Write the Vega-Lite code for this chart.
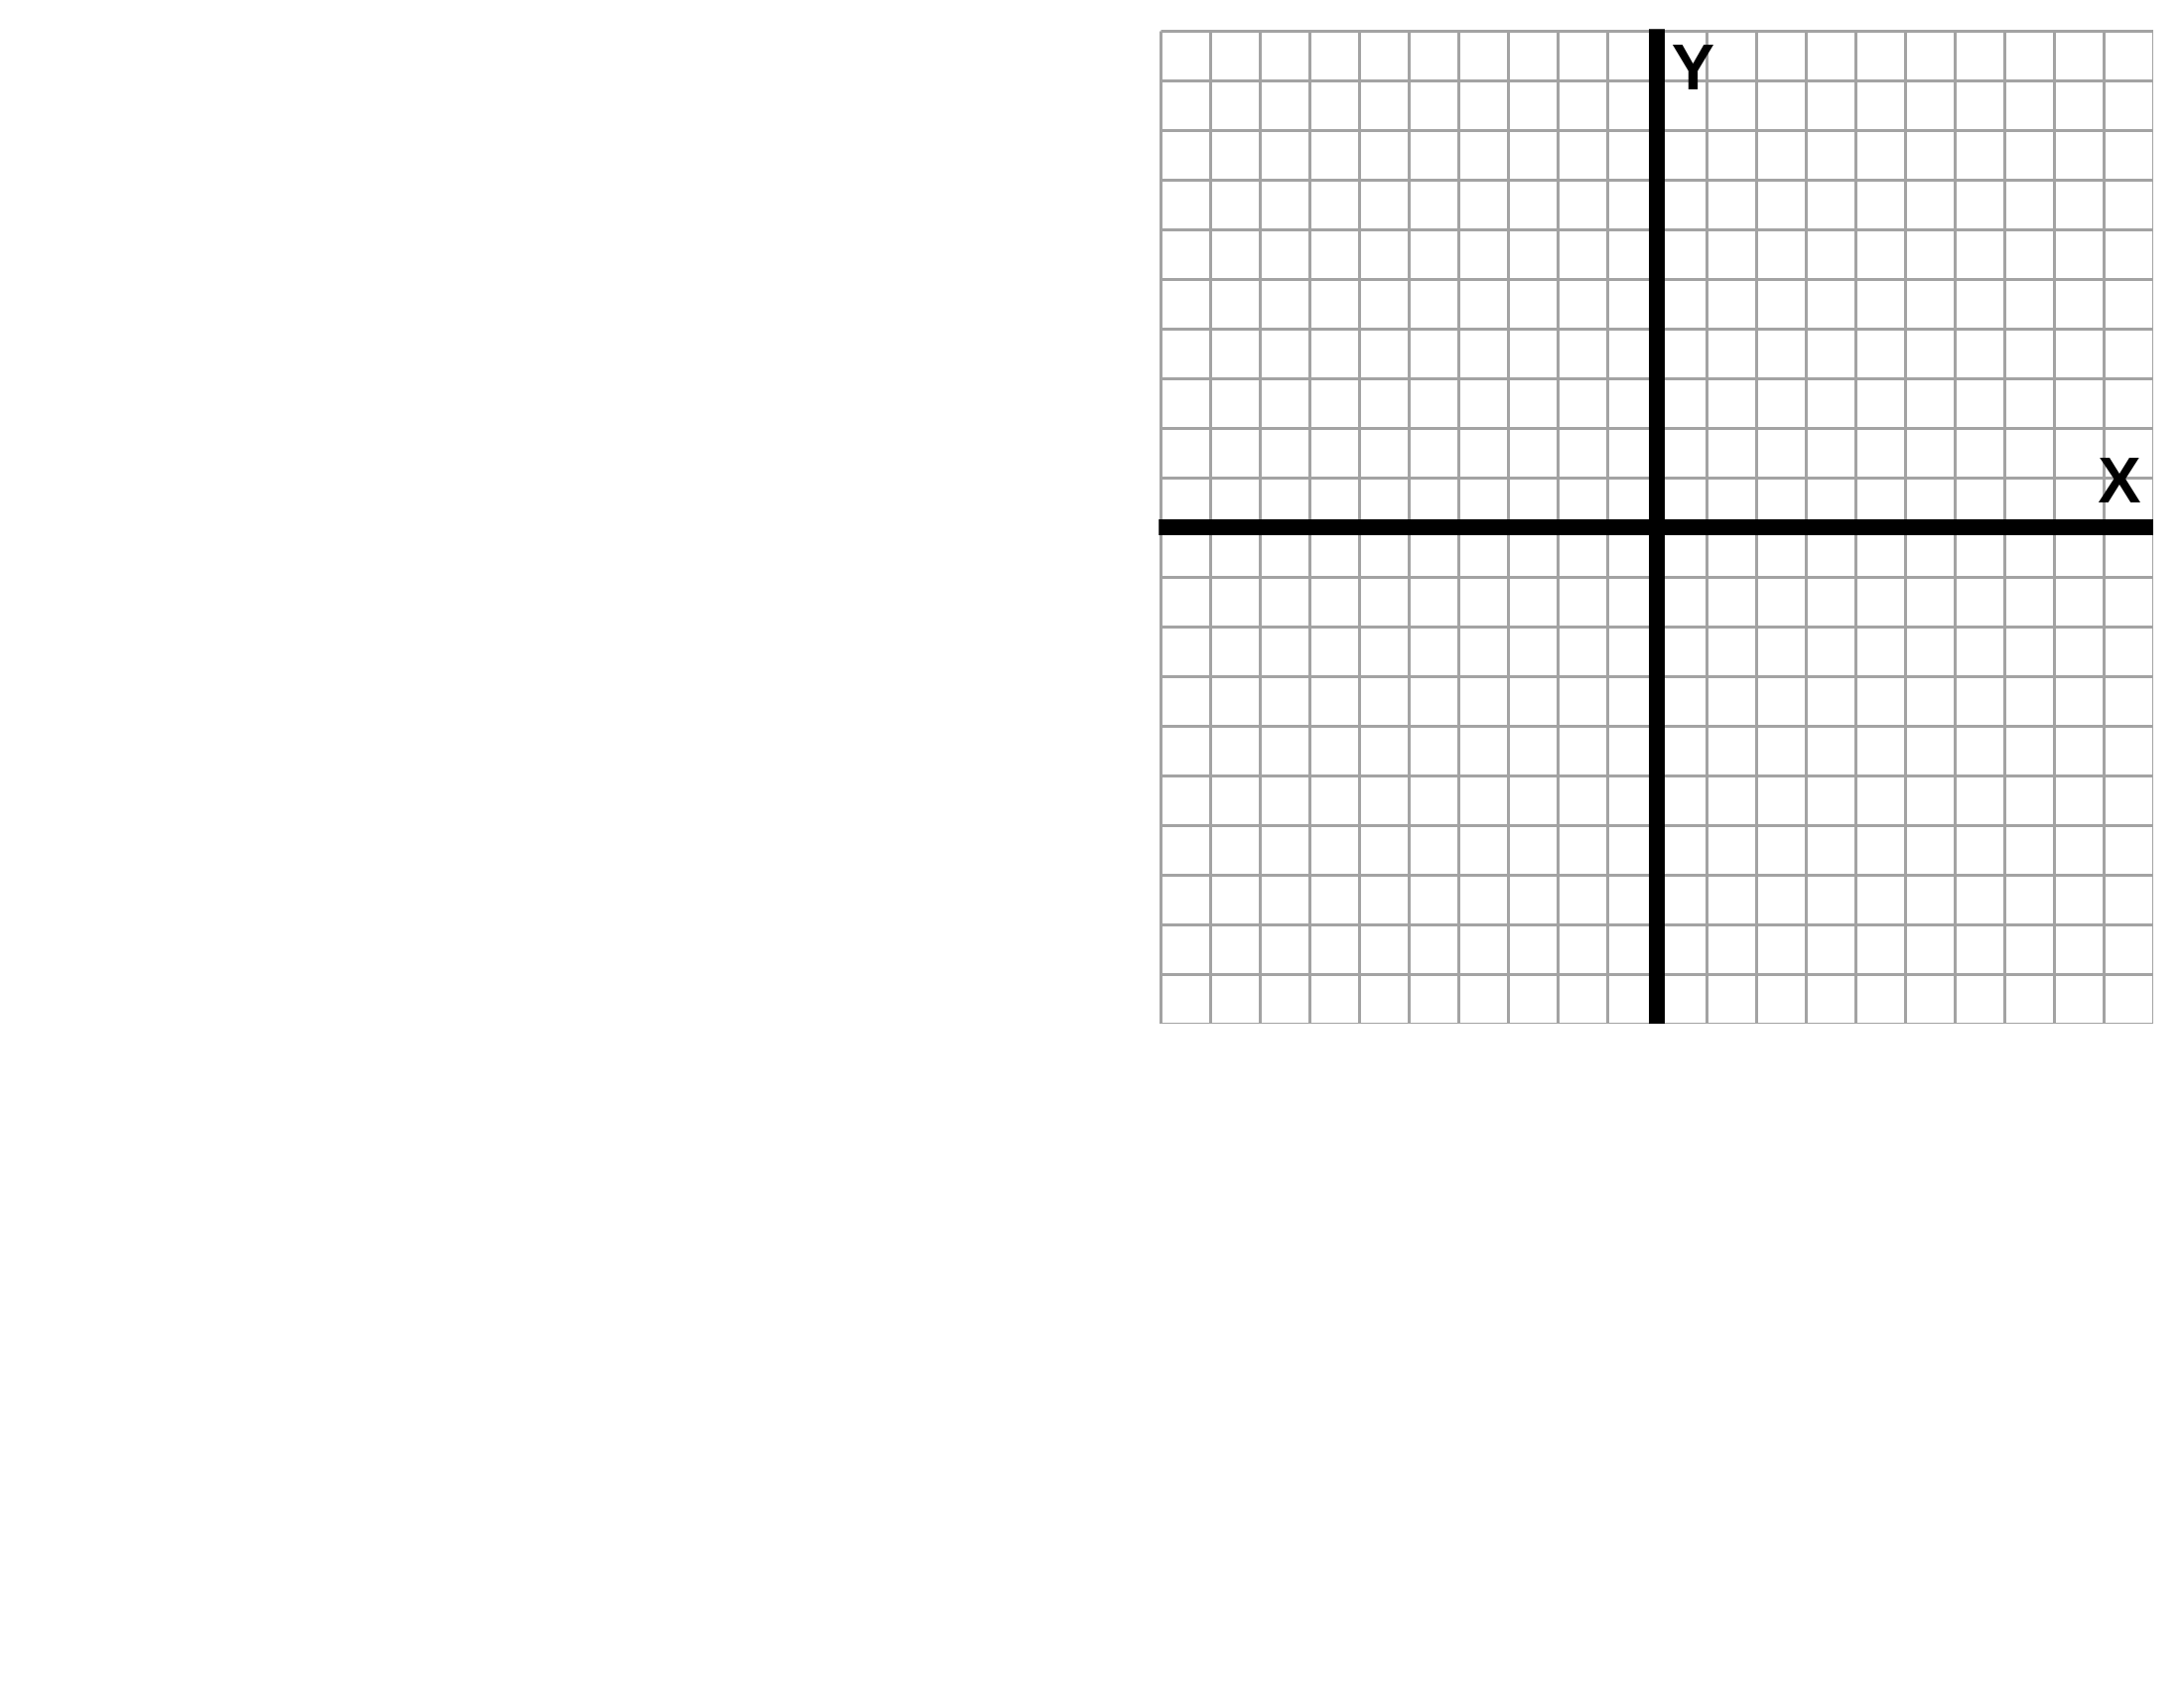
{
  "$schema": "https://vega.github.io/schema/vega-lite/v6.json",
  "width": 1000,
  "height": 1000,
  "autosize": {"type": "none"},
  "padding": {"left": 1169, "top": 31, "right": 0, "bottom": 0},
  "background": "white",
  "config": {"view": {"stroke": null}},
  "data": {"values": [
    {"label": "X", "x": 9.32, "y": 0.51},
    {"label": "Y", "x": 0.73, "y": 8.83}
  ]},
  "layer": [
    {
      "mark": {"type": "rule", "color": "black", "strokeWidth": 16, "strokeCap": "butt"},
      "encoding": {
        "x": {"datum": 0, "type": "quantitative", "scale": {"domain": [-10, 10], "nice": false, "zero": false},
              "axis": {"values": [-10,-9,-8,-7,-6,-5,-4,-3,-2,-1,0,1,2,3,4,5,6,7,8,9,10], "grid": true, "gridColor": "#a3a3a3", "gridWidth": 3, "gridOpacity": 1, "labels": false, "ticks": false, "domain": false, "title": null, "minExtent": 0, "maxExtent": 0}},
        "y": {"datum": -10.03, "type": "quantitative", "scale": {"domain": [-10, 10], "nice": false, "zero": false},
              "axis": {"values": [-10,-9,-8,-7,-6,-5,-4,-3,-2,-1,0,1,2,3,4,5,6,7,8,9,10], "grid": true, "gridColor": "#a3a3a3", "gridWidth": 3, "gridOpacity": 1, "labels": false, "ticks": false, "domain": false, "title": null, "minExtent": 0, "maxExtent": 0}},
        "y2": {"datum": 10.03}
      }
    },
    {
      "mark": {"type": "rule", "color": "black", "strokeWidth": 16, "strokeCap": "butt"},
      "encoding": {
        "y": {"datum": 0, "type": "quantitative"},
        "x": {"datum": -10.03, "type": "quantitative"},
        "x2": {"datum": 10.03}
      }
    },
    {
      "mark": {"type": "text", "font": "Liberation Sans", "fontWeight": "bold", "fontSize": 65, "align": "center", "baseline": "alphabetic", "color": "black"},
      "encoding": {
        "x": {"field": "x", "type": "quantitative"},
        "y": {"field": "y", "type": "quantitative"},
        "text": {"field": "label"}
      }
    }
  ]
}
